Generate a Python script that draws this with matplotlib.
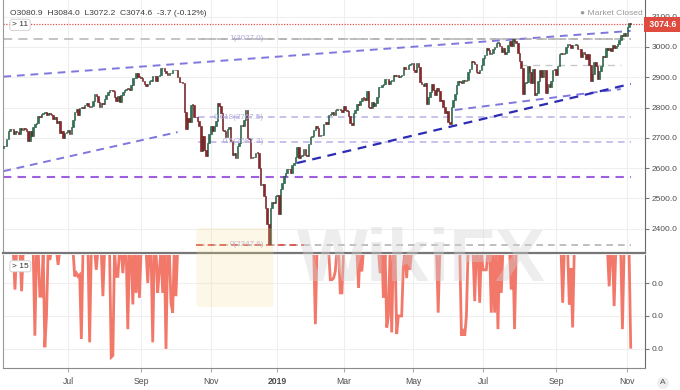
import matplotlib.pyplot as plt
from matplotlib.patches import FancyBboxPatch
import numpy as np

# S&P 500 daily closes, 7 May 2018 .. 5 Nov 2019, one row per month
closes_2018 = [
    2672.6, 2671.9, 2697.8, 2723.1, 2727.7, 2730.1, 2711.5, 2722.5, 2720.1, 2712.0, 2733.0, 2724.4,
    2733.3, 2727.8, 2721.3, 2689.9, 2724.0, 2705.3,
    2734.6, 2746.9, 2748.8, 2772.4, 2770.4, 2779.0, 2782.0, 2786.9, 2775.6, 2782.5, 2779.7, 2773.9,
    2762.6, 2767.3, 2749.8, 2754.9, 2717.1, 2723.1, 2699.6, 2716.3, 2718.4,
    2726.7, 2713.2, 2736.6, 2759.8, 2784.2, 2793.8, 2774.0, 2798.3, 2801.3, 2798.4, 2809.6, 2815.6,
    2804.5, 2801.8, 2806.0, 2820.4, 2846.1, 2837.4, 2818.8, 2802.6, 2816.3,
    2813.4, 2827.2, 2840.4, 2850.4, 2858.5, 2857.7, 2853.6, 2833.3, 2821.9, 2839.1, 2818.4, 2840.7,
    2850.1, 2857.1, 2862.9, 2861.8, 2856.9, 2874.7, 2896.7, 2897.5, 2914.0, 2901.1, 2901.5,
    2896.7, 2888.6, 2878.1, 2871.7, 2877.1, 2887.9, 2888.9, 2904.2, 2905.0, 2888.8, 2904.3, 2908.0,
    2930.8, 2929.7, 2919.4, 2915.6, 2906.0, 2914.0, 2914.0,
    2924.6, 2923.4, 2925.5, 2901.6, 2885.6, 2884.4, 2880.3, 2785.7, 2728.4, 2767.1, 2750.8, 2809.9,
    2809.2, 2768.8, 2767.8, 2755.9, 2740.7, 2656.1, 2705.6, 2658.7, 2641.3, 2682.6, 2711.7,
    2740.4, 2723.1, 2738.3, 2755.5, 2813.9, 2806.8, 2781.0, 2726.2, 2722.2, 2701.6, 2730.2, 2736.3,
    2690.7, 2641.9, 2649.9, 2632.6, 2673.5, 2682.2, 2743.8, 2737.8, 2760.2,
    2790.4, 2700.1, 2696.0, 2633.1, 2637.7, 2636.8, 2651.1, 2650.5, 2600.0, 2545.9, 2546.2, 2507.0,
    2467.4, 2416.6, 2351.1, 2467.7, 2488.8, 2485.7, 2506.9,
]
closes_2019 = [
    2510.0, 2447.9, 2531.9, 2549.7, 2574.4, 2585.0, 2596.6, 2596.3, 2582.6, 2610.3, 2616.1, 2636.0,
    2670.7, 2632.9, 2638.7, 2642.3, 2664.8, 2643.9, 2640.0, 2681.1, 2704.1,
    2706.5, 2724.9, 2737.7, 2731.6, 2706.1, 2707.9, 2709.8, 2744.7, 2753.0, 2745.7, 2775.6, 2779.8,
    2784.7, 2774.9, 2792.7, 2796.1, 2793.9, 2792.4, 2784.5,
    2803.7, 2792.8, 2789.7, 2771.5, 2748.9, 2743.1, 2783.3, 2791.5, 2810.9, 2808.5, 2822.5, 2832.9,
    2832.6, 2824.2, 2854.9, 2800.7, 2798.4, 2818.5, 2805.4, 2815.4, 2834.4,
    2867.2, 2867.2, 2873.4, 2879.4, 2892.7, 2895.8, 2878.2, 2888.2, 2888.3, 2907.4, 2905.6, 2907.1,
    2900.5, 2905.0, 2908.0, 2933.7, 2927.3, 2926.2, 2939.9, 2943.0, 2945.8,
    2923.7, 2917.5, 2945.6, 2932.5, 2884.1, 2879.4, 2870.7, 2881.4, 2811.9, 2834.4, 2851.0, 2876.3,
    2859.5, 2840.2, 2864.4, 2856.3, 2822.2, 2826.1, 2802.4, 2783.0, 2788.9, 2752.1,
    2744.5, 2803.3, 2826.2, 2843.5, 2873.3, 2886.7, 2885.7, 2879.8, 2891.6, 2887.0, 2889.7, 2917.8,
    2926.5, 2954.2, 2950.5, 2945.4, 2917.4, 2913.8, 2924.9, 2941.8,
    2964.3, 2973.0, 2995.8, 2990.4, 2976.0, 2979.6, 2993.1, 2999.9, 3013.8, 3014.3, 3004.0, 2984.4,
    2995.1, 2976.6, 2985.0, 3005.5, 3019.6, 3003.7, 3025.9, 3021.0, 3013.2, 2980.4,
    2953.6, 2932.1, 2844.7, 2881.8, 2884.0, 2938.1, 2918.7, 2882.7, 2926.3, 2840.6, 2847.6, 2888.7,
    2923.7, 2900.5, 2924.4, 2923.0, 2847.1, 2878.4, 2869.2, 2887.9, 2924.6, 2926.5,
    2906.3, 2937.8, 2976.0, 2978.7, 2978.4, 2979.4, 3000.9, 3009.6, 3007.4, 2998.0, 3005.7, 3006.7,
    3006.8, 2992.1, 2991.8, 2966.6, 2984.9, 2977.6, 2961.8, 2976.7,
    2940.3, 2887.6, 2910.6, 2952.0, 2938.8, 2893.1, 2919.4, 2938.1, 2970.3, 2966.2, 2995.7, 2989.7,
    2998.0, 2986.2, 3006.7, 2996.0, 3004.5, 3010.3, 3022.6, 3039.4, 3036.9, 3046.8, 3037.6,
    3066.9, 3078.3, 3074.6,
]
first_open = 2665.0

# month labels on the time axis and the trading-day index where each month starts
month_labels = ["Jul", "Sep", "Nov", "2019", "Mar", "May", "Jul", "Sep", "Nov"]
month_start = [39, 83, 125, 165, 205, 247, 289, 333, 376]

price_ticks = [2400, 2500, 2600, 2700, 2800, 2900, 3000, 3100]

# drawn lines: (start day, end day), (start price, end price)
upper_trend_days, upper_trend_px = [0, 378], [2902, 3053]
left_trend_days, left_trend_px = [0, 105], [2590, 2719]
rising_days, rising_px = [177, 378], [2617, 2878]
rising2_days, rising2_px = [272, 372], [2792, 2861]
purple_level = 2570
grey_level = 3027
grey_level2_days, grey_level2 = [311, 372], 2940
last_close = 3074.6

fib_days = [117, 378]
fib_low, fib_high = 2347.6, 3027.0
fib_levels = [1, 0.618, 0.5, 0]
fib_labels = ["1(3027.0)", "0.618(2767.5)", "0.5(2687.3)", "0(2347.6)"]

# lower indicator: days where it dips into view and the dip depth (zero elsewhere)
ind_days = [7, 11, 19, 22, 23, 25, 26, 28, 33, 43, 44, 45, 46, 47, 52, 56, 60, 65, 66, 68, 69,
            72, 75, 78, 80, 82, 87, 90, 93, 94, 96, 98, 101, 102, 104,
            188, 197, 198, 199, 200, 203, 204, 214, 216, 227, 229, 231, 232, 234, 237, 238,
            239, 240, 241, 243, 245, 262, 276, 277, 278, 279, 284, 287, 289, 290, 291, 294,
            296, 298, 300, 306, 308, 337, 341, 342, 343, 365, 368, 373, 378]
ind_vals = [-1.2, -1.25, -2.6, -1.4, -1.4, -2.95, -2.0, -0.3, -0.45, -0.8, -0.7, -0.8, -0.75,
            -2.7, -2.8, -0.6, -1.4, -3.25, -3.2, -0.8, -0.8, -0.7, -2.4, -1.65, -1.3, -1.45,
            -1.0, -2.8, -1.3, -0.6, -1.3, -3.0, -1.6, -1.9, -1.4,
            -2.25, -0.9, -0.9, -0.85, -0.65, -1.3, -1.3, -1.15, -0.65, -0.7, -1.45, -2.35,
            -2.0, -2.5, -2.55, -2.0, -2.0, -2.0, -0.5, -0.85, -0.6, -1.9, -2.6, -2.4, -2.6,
            -2.0, -1.55, -1.6, -0.6, -0.6, -0.6, -1.9, -1.9, -2.4, -1.3, -1.2, -2.4, -1.6,
            -1.65, -0.55, -2.35, -1.1, -1.7, -2.4, -2.95]

UP = "#2c7453"
DOWN = "#8e2528"
GRID = "#efefef"
AXIS_TXT = "#4d4d4d"

plt.rcParams["font.family"] = ["Liberation Sans", "DejaVu Sans"]


def main():
    closes = np.array(closes_2018 + closes_2019)
    opens = np.concatenate([[first_open], closes[:-1]])
    days = np.arange(len(closes))
    ind = np.zeros(len(closes))
    ind[ind_days] = ind_vals

    fig = plt.figure(figsize=(6.8, 3.9), dpi=100)
    ax = fig.add_axes([3 / 680, 1 - 253 / 390, 642 / 680, 253 / 390])
    axl = fig.add_axes([3 / 680, 22 / 390, 642 / 680, 113 / 390])
    xlim = (-0.2, 386.6)

    for a in (ax, axl):
        a.set_xlim(*xlim)
        a.set_xticks(month_start)
        a.grid(axis="both", color=GRID, linewidth=0.8)
        a.set_axisbelow(True)
        a.spines["top"].set_visible(False)
        a.spines["left"].set_color("#9a9a9a")
        a.spines["right"].set_color("#6a6a6a")
        a.spines["bottom"].set_color("#8a8a8a")
        a.yaxis.tick_right()
        a.tick_params(axis="y", labelsize=6, colors="#777777", labelcolor=AXIS_TXT,
                      length=3, pad=2)
        a.tick_params(axis="x", length=3, colors="#aaaaaa", labelcolor=AXIS_TXT, labelsize=6.2)

    ax.spines["bottom"].set_linewidth(1.6)
    ax.spines["bottom"].set_color("#777777")
    ax.tick_params(axis="x", labelbottom=False, length=0)

    # candles
    up = closes >= opens
    bottom = np.minimum(opens, closes)
    height = np.maximum(np.abs(closes - opens), 1.5)
    ax.bar(days[up], height[up], bottom=bottom[up], width=0.9, color=UP,
           edgecolor="#1d5139", linewidth=0.4, zorder=3)
    ax.bar(days[~up], height[~up], bottom=bottom[~up], width=0.9, color=DOWN,
           edgecolor="#661719", linewidth=0.4, zorder=3)

    ax.set_ylim(2320, 3155)
    ax.set_yticks(price_ticks)
    ax.set_yticklabels([f"{p:.1f}" for p in price_ticks])

    # drawn levels and trend lines
    ax.plot(days[[0, -1]], [grey_level] * 2, color="#b4b4b4", lw=1.1, dashes=(6, 4), zorder=2)
    ax.plot(grey_level2_days, [grey_level2] * 2, color="#c8c8c8", lw=1.0, dashes=(5, 4), zorder=2)
    ax.plot(days[[0, -1]], [purple_level] * 2, color="#9d5fe0", lw=1.5, dashes=(4, 3), zorder=2)
    ax.plot(upper_trend_days, upper_trend_px, color="#7f77dd", lw=1.4, dashes=(4, 3), zorder=2)
    ax.plot(left_trend_days, left_trend_px, color="#7f77dd", lw=1.4, dashes=(4, 3), zorder=2)
    ax.plot(rising2_days, rising2_px, color="#7f77dd", lw=1.4, dashes=(4, 3), zorder=2)
    ax.plot(rising_days, rising_px, color="#2b2bb5", lw=1.6, dashes=(4, 3), zorder=4)

    for lvl, lab in zip(fib_levels, fib_labels):
        price = fib_low + lvl * (fib_high - fib_low)
        col = "#bdb6ea" if lvl not in (0, 1) else "#b4b4b4"
        ax.plot(fib_days, [price] * 2, color=col, lw=1.2, dashes=(4, 3), zorder=2)
        ax.text(157, price, lab, ha="right", va="center", fontsize=5.8, color="#b2acd8", zorder=5)
    ax.plot([116, 181], [fib_low] * 2, color="#e04a40", lw=1.2, dashes=(4, 3), zorder=2)

    ax.axhline(last_close, color="#e0504a", lw=0.9, ls=(0, (1, 1.2)), zorder=2)
    ax.text(1.003, last_close, f" {last_close:.1f} ", transform=ax.get_yaxis_transform(),
            ha="left", va="center", fontsize=6.3, color="white", fontweight="bold",
            bbox=dict(boxstyle="square,pad=0.35", fc="#df4b3f", ec="none"), clip_on=False)

    ax.text(0.011, 0.948, "O3080.9  H3084.0  L3072.2  C3074.6  -3.7 (-0.12%)",
            transform=ax.transAxes, fontsize=6.1, color="#3a3a3a", va="center")
    ax.text(0.014, 0.902, "> 11", transform=ax.transAxes, fontsize=6, color="#333333",
            va="center", bbox=dict(boxstyle="round,pad=0.25", fc="white", ec="#cccccc", lw=0.6))
    ax.text(0.997, 0.948, "\u25cf Market Closed", transform=ax.transAxes, fontsize=6.1,
            color="#9a9a9a", va="center", ha="right")

    # lower indicator panel
    axl.plot(days, ind, color="#f2786a", lw=2.0, solid_joinstyle="miter", zorder=3)
    axl.set_ylim(-3.58, -0.15)
    axl.set_yticks([-1, -2, -3])
    axl.set_yticklabels(["0.0", "0.0", "0.0"])
    axl.set_xticklabels(month_labels)
    for lab in axl.get_xticklabels():
        if lab.get_text() == "2019":
            lab.set_fontweight("bold")
    axl.text(0.014, 0.9, "> 15", transform=axl.transAxes, fontsize=6, color="#333333",
             va="center", bbox=dict(boxstyle="round,pad=0.25", fc="white", ec="#cccccc", lw=0.6))

    # watermark and autoscale button
    fig.patches.append(FancyBboxPatch((200 / 680, 1 - 305 / 390), 70 / 680, 75 / 390,
                                      boxstyle="round,pad=0.005", transform=fig.transFigure,
                                      fc="#f7dc92", ec="none", alpha=0.22, zorder=0))
    fig.text(0.62, 0.33, "WikiFX", fontsize=54, fontweight="bold", color="#d2d2d2",
             alpha=0.4, ha="center", va="center", zorder=0)
    fig.text(663 / 680, 1 - 383 / 390, "A", fontsize=6, color="#555555", ha="center",
             va="center", bbox=dict(boxstyle="circle,pad=0.3", fc="#eeeeee", ec="none"))

    fig.savefig("out.png", dpi=100)


if __name__ == "__main__":
    main()
